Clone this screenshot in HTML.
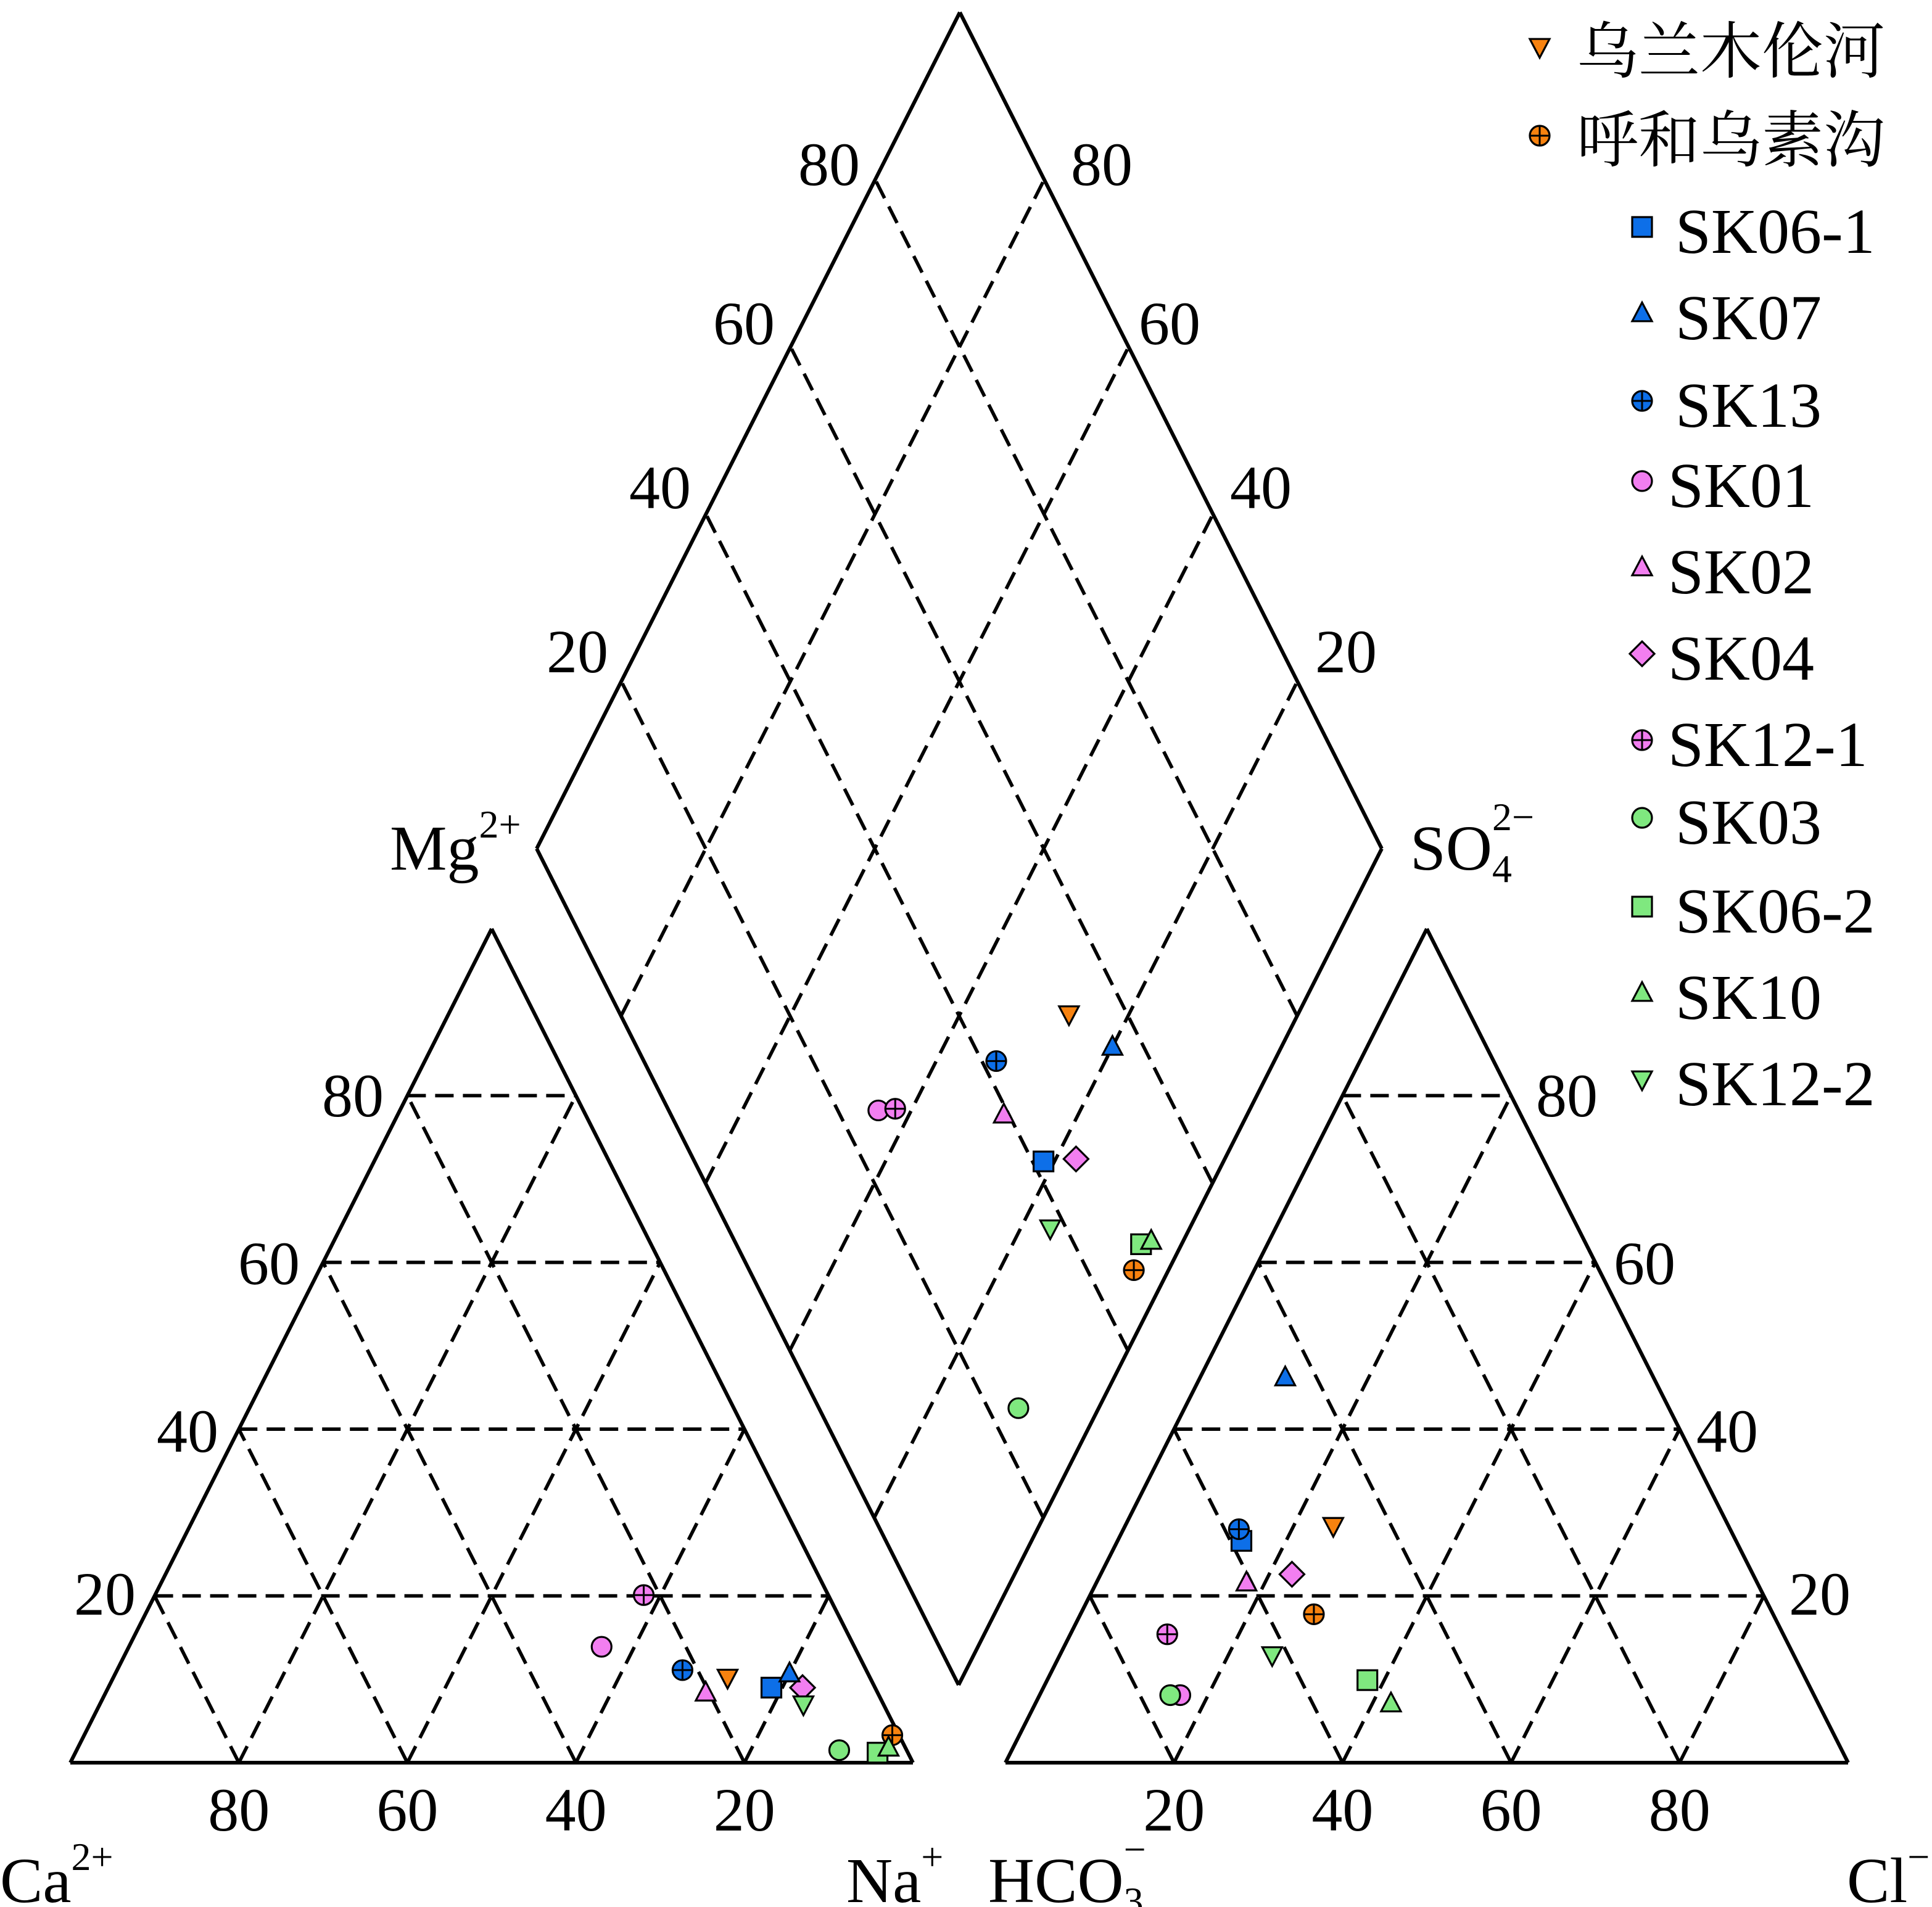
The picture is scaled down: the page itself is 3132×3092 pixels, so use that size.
<!DOCTYPE html>
<html><head><meta charset="utf-8">
<style>
html,body{margin:0;padding:0;background:#fff;}
svg{display:block;}
text{font-family:"Liberation Serif","Noto Serif CJK SC",serif;fill:#000;}
</style></head>
<body>
<svg id="chart" xmlns="http://www.w3.org/2000/svg" width="3132" height="3092" viewBox="0 0 1566 1546">
<g id="grid"></g>
<g id="frames"></g>
<g id="labels"></g>
<g id="points"></g>
<g id="legend"></g>
</svg>
<script>
const samples = ["乌兰木伦河","呼和乌素沟","SK04","SK06-1","SK07","SK13","SK01","SK02","SK12-1","SK03","SK06-2","SK10","SK12-2"];
const markers = ["dtri","plus","diamond","square","tri","plus","circle","tri","plus","circle","square","tri","dtri"];
const colors = ["#f7820f","#f7820f","#f27ef0","#0d6fe8","#0d6fe8","#0d6fe8","#f27ef0","#f27ef0","#f27ef0","#7fe87f","#7fe87f","#7fe87f","#7fe87f"];
const caPct = [16.9,0.8,8.6,12.3,9.3,21.8,30.0,20.4,21.9,8.0,3.6,2.0,9.5];
const mgPct = [10.2,3.3,9.0,9.0,10.7,11.1,13.9,8.4,20.1,1.5,1.2,1.8,7.0];
const naPct = [72.9,95.9,82.4,78.7,80.0,67.1,56.1,71.2,58.0,90.5,95.2,96.2,83.5];
const so4Pct = [28.4,17.8,22.6,26.6,46.2,28.0,8.1,21.6,15.4,8.1,9.9,7.1,12.9];
const clPct = [24.7,27.7,22.7,14.7,10.1,13.7,16.7,17.8,11.5,15.5,38.0,42.2,25.2];
const hco3Pct = [46.9,54.5,54.7,58.7,43.7,58.3,75.2,60.6,73.1,76.4,52.1,50.7,61.9];
const ticks = [20,40,60,80];
const legendOrder = ["乌兰木伦河","呼和乌素沟","SK06-1","SK07","SK13","SK01","SK02","SK04","SK12-1","SK03","SK06-2","SK10","SK12-2"];

const NS="http://www.w3.org/2000/svg";
function mk(tag,attrs,parent){const e=document.createElementNS(NS,tag);for(const k in attrs)e.setAttribute(k,attrs[k]);parent.appendChild(e);return e;}
const grid=document.getElementById('grid'),frames=document.getElementById('frames'),labels=document.getElementById('labels'),points=document.getElementById('points'),legend=document.getElementById('legend');

const W=683,H=676,BY=1429;
const LT={x0:57}, RT={x0:815};
function triPt(x0,top,right){return [x0+W*(right+top/2), BY-H*top];}
const DB=[777,1366], DL=[-342,-678], DR=[343,-678];
function diaPt(c,s){return [DB[0]+DL[0]*c+DR[0]*s, DB[1]+DL[1]*c+DR[1]*s];}

function line(p,q,dash,name){
  const e=mk('line',{x1:p[0],y1:p[1],x2:q[0],y2:q[1],stroke:'#000','stroke-width':dash?2.8:3,'stroke-dasharray':dash?'15,7.5':'none'},dash?grid:frames);
  
  
}
[LT.x0,RT.x0].forEach((x0,i)=>{
  const nm=i?'anion':'cation';
  const A=triPt(x0,0,0),B=triPt(x0,0,1),C=triPt(x0,1,0);
  line(A,B,false,nm+'-triangle-edge');line(B,C,false,nm+'-triangle-edge');line(C,A,false,nm+'-triangle-edge');
  ticks.forEach(t=>{const f=t/100;
    line(triPt(x0,f,0),triPt(x0,f,1-f),true,nm+'-grid-top-'+t);
    line(triPt(x0,0,f),triPt(x0,1-f,f),true,nm+'-grid-right-'+t);
    line(triPt(x0,0,1-f),triPt(x0,1-f,0),true,nm+'-grid-left-'+t);
  });
});
line(DB,diaPt(1,0),false,'diamond-edge');line(DB,diaPt(0,1),false,'diamond-edge');
line(diaPt(1,0),diaPt(1,1),false,'diamond-edge');line(diaPt(0,1),diaPt(1,1),false,'diamond-edge');
ticks.forEach(t=>{const f=t/100;
  line(diaPt(f,0),diaPt(f,1),true,'diamond-grid-c-'+t);
  line(diaPt(0,f),diaPt(1,f),true,'diamond-grid-s-'+t);
});

function txt(x,y,s,anchor,name,size){
  const e=mk('text',{x:x,y:y,'font-size':size||50,'text-anchor':anchor||'middle'},labels);
  e.textContent=s;
  
  
  return e;
}
const ly={80:905,60:1041,40:1177,20:1309};
const lx={80:311,60:243,40:177,20:110};
const rx={80:1245,60:1308,40:1375,20:1450};
ticks.forEach(t=>{
  txt(lx[t],ly[t],String(t),'end','mg-tick-'+t);
  txt(rx[t],ly[t],String(t),'start','so4-tick-'+t);
  txt(LT.x0+W*(1-t/100),1484,String(t),'middle','ca-tick-'+t);
  txt(RT.x0+W*(t/100),1484,String(t),'middle','cl-tick-'+t);
});
const dly={80:150,60:279,40:412,20:545};
const dlx={80:697,60:628,40:560,20:493};
const drx={80:868,60:923,40:997,20:1066};
ticks.forEach(t=>{
  txt(dlx[t],dly[t],String(t),'end','diamond-left-tick-'+t);
  txt(drx[t],dly[t],String(t),'start','diamond-right-tick-'+t);
});
function ion(x,y,base,sub,sup,name){
  const e=mk('text',{x:x,y:y,'font-size':52,'text-anchor':'start'},labels);
  
  
  e.appendChild(document.createTextNode(base));
  if(sub){const s=mk('tspan',{'font-size':32,dy:10},e);s.textContent=sub;}
  if(sup){const s=mk('tspan',{'font-size':32,dy:sub?-42:-26,dx:sub?-16:0},e);s.textContent=sup;}
}
ion(316,705,'Mg',null,'2+','mg-axis-title');
ion(1143,705,'SO',"4",'2−','so4-axis-title');
ion(0,1542,'Ca',null,'2+','ca-axis-title');
ion(686,1542,'Na',null,'+','na-axis-title');
ion(801,1542,'HCO',"3",'−','hco3-axis-title');
ion(1497,1542,'Cl',null,'−','cl-axis-title');

function marker(parent,type,x,y,color,r){
  const g=mk('g',{},parent);
  const st={fill:color,stroke:'#000','stroke-width':1.6};
  if(type==='circle'||type==='plus'){mk('circle',Object.assign({cx:x,cy:y,r:r},st),g);
    if(type==='plus'){mk('line',{x1:x-r,y1:y,x2:x+r,y2:y,stroke:'#000','stroke-width':1.5},g);mk('line',{x1:x,y1:y-r,x2:x,y2:y+r,stroke:'#000','stroke-width':1.5},g);}}
  else if(type==='square'){mk('rect',Object.assign({x:x-r,y:y-r,width:2*r,height:2*r},st),g);}
  else if(type==='tri'){mk('polygon',Object.assign({points:`${x},${y-r*1.1} ${x-r},${y+r*0.8} ${x+r},${y+r*0.8}`},st),g);}
  else if(type==='dtri'){mk('polygon',Object.assign({points:`${x},${y+r*1.1} ${x-r},${y-r*0.8} ${x+r},${y-r*0.8}`},st),g);}
  else if(type==='diamond'){mk('polygon',Object.assign({points:`${x},${y-r*1.25} ${x+r*1.25},${y} ${x},${y+r*1.25} ${x-r*1.25},${y}`},st),g);}
  return g;
}
samples.forEach((s,i)=>{
  const tot=caPct[i]+mgPct[i]+naPct[i], atot=so4Pct[i]+clPct[i]+hco3Pct[i];
  const mg=mgPct[i]/tot, na=naPct[i]/tot, ca=caPct[i]/tot;
  const so4=so4Pct[i]/atot, cl=clPct[i]/atot;
  const p1=triPt(LT.x0,mg,na), p2=triPt(RT.x0,so4,cl), p3=diaPt(ca+mg,so4+cl);
  [p1,p2,p3].forEach((p,k)=>{
    const g=marker(points,markers[i],p[0],p[1],colors[i],8);
    
    
  });
});
const legY=[40,112,186,256,327,392,462,532,602,665,737,807,877];
legendOrder.forEach((s,i)=>{
  const si=samples.indexOf(s);
  const cn=i<2;
  const mx=cn?1248:1331;
  const g=marker(legend,markers[si],mx,legY[i]-2,colors[si],8);
  
  
  const tx=cn?1278:(i>=5&&i<=8?1352:1358);
  const t=mk('text',{x:tx,y:legY[i]+19,'font-size':cn?50:52,'text-anchor':'start'},legend);
  t.textContent=s;
  
  
});
</script>
</body></html>
